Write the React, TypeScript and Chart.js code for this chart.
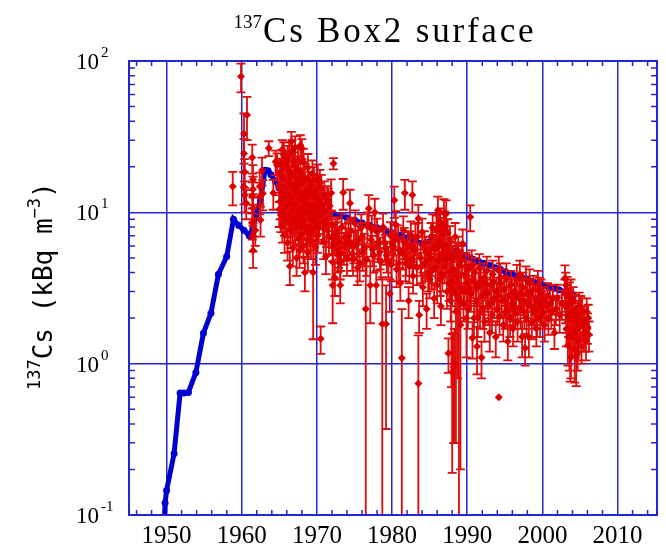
import React, { useEffect, useRef } from "react";
import { Chart, registerables } from "chart.js";

Chart.register(...registerables);

// ---------- axes ----------
const xMajorTicks = [1950, 1960, 1970, 1980, 1990, 2000, 2010];
const yMajorTicks = [0.1, 1, 10, 100];
const yTickExponents = ["-1", "0", "1", "2"];

// ---------- model (blue line) ----------
const modelYears = [
  1949.6, 1949.8, 1950.0, 1951.0, 1951.8, 1952.3, 1952.9, 1953.9, 1954.9, 1955.9,
  1956.9, 1958.0, 1958.9, 1959.6, 1960.3, 1961.0, 1961.5, 1961.9, 1962.5, 1963.1,
  1963.5, 1963.9, 1964.5, 1965.0, 1966.0, 1967.0, 1968.0, 1969.0, 1970.0, 1971.0,
  1972.0, 1973.0, 1974.0, 1975.0, 1976.0, 1977.0, 1978.0, 1979.0, 1980.0, 1981.0,
  1982.0, 1983.0, 1984.0, 1985.0, 1985.8, 1986.5, 1987.3, 1988.0, 1988.8, 1989.5,
  1990.1, 1990.8, 1991.5, 1992.2, 1993.0, 1993.7, 1994.4, 1995.1, 1995.9, 1996.6,
  1997.3, 1998.0, 1998.7, 1999.4, 2000.1, 2000.8, 2001.5, 2002.2, 2003.0, 2003.7,
  2004.1,
];
const modelValues = [
  0.07, 0.12, 0.145, 0.255, 0.64, 0.64, 0.645, 0.875, 1.59, 2.15,
  3.9, 5.1, 9.0, 8.2, 7.6, 7.0, 8.0, 9.6, 12.0, 19.0,
  18.8, 17.7, 16.0, 14.4, 13.5, 12.8, 12.0, 11.3, 10.8, 10.3,
  9.8, 9.5, 9.2, 8.9, 8.5, 8.2, 7.9, 7.6, 7.3, 7.05,
  6.8, 6.55, 6.2, 6.4, 6.5, 6.2, 5.9, 5.6, 5.35, 5.2,
  5.05, 4.9, 4.75, 4.6, 4.45, 4.3, 4.2, 4.05, 3.92, 3.8,
  3.7, 3.62, 3.5, 3.4, 3.3, 3.22, 3.15, 3.08, 2.98, 2.92,
  2.85,
];

// ---------- observations [year, value, error] ----------
const obsBefore1965 = [
  [1958.8, 14.8, 3.7], [1959.9, 79, 17], [1960.3, 33, 12], [1960.7, 44, 14],
  [1960.3, 24.5, 6], [1960.4, 18.5, 4], [1960.3, 14.8, 3.5], [1960.4, 13, 3],
  [1960.6, 11.5, 2.5], [1961.4, 23, 5], [1961.5, 16.5, 4], [1961.5, 14.2, 3],
  [1961.4, 12.8, 3], [1961.5, 10.7, 2.5], [1961.4, 8.6, 2], [1961.5, 7.0, 1.5],
  [1961.5, 5.6, 1.3], [1961.8, 7.6, 1.6], [1962.4, 14.8, 3.5], [1962.4, 12.7, 3],
  [1962.5, 8.9, 2], [1962.7, 19, 4], [1962.8, 13.3, 3], [1963.6, 26.5, 3],
  [1964.2, 13.4, 3], [1964.5, 21.6, 4], [1964.7, 20.5, 4],
];

const obs1965to1970 = [
  [1965.0, 15.2, 3.5], [1965.1, 11.8, 2.8], [1965.1, 18.4, 4.2], [1965.2, 9.6, 2.2],
  [1965.3, 13.5, 3.0], [1965.3, 21.0, 4.8], [1965.4, 8.2, 1.9], [1965.5, 16.8, 3.8],
  [1965.5, 12.1, 2.9], [1965.6, 24.0, 5.0], [1965.6, 10.2, 2.4], [1965.7, 7.1, 1.7],
  [1965.8, 14.6, 3.3], [1965.8, 19.5, 4.4], [1965.9, 11.0, 2.6], [1966.0, 8.9, 2.1],
  [1966.0, 16.0, 3.7], [1966.1, 22.5, 5.0], [1966.1, 6.3, 1.5], [1966.2, 13.0, 3.0],
  [1966.2, 19.0, 4.0], [1966.3, 9.8, 2.3], [1966.4, 4.4, 1.1], [1966.4, 15.5, 3.6],
  [1966.5, 11.5, 2.7], [1966.5, 7.6, 1.8], [1966.6, 29.5, 4.5], [1966.6, 17.8, 4.1],
  [1966.7, 25.0, 5.0], [1966.7, 12.6, 2.9], [1966.8, 9.0, 2.1], [1966.8, 5.8, 1.4],
  [1966.9, 14.2, 3.3], [1967.0, 20.3, 4.6], [1967.0, 10.6, 2.5], [1967.1, 7.9, 1.9],
  [1967.2, 13.8, 3.2], [1967.2, 16.9, 3.9], [1967.3, 5.0, 1.2], [1967.3, 11.2, 2.6],
  [1967.4, 8.5, 2.0], [1967.5, 22.0, 4.8], [1967.5, 14.9, 3.4], [1967.6, 6.7, 1.6],
  [1967.6, 10.0, 2.3], [1967.7, 12.3, 2.9], [1967.8, 27.8, 4.5], [1967.8, 18.2, 4.2],
  [1967.9, 9.3, 2.2], [1967.9, 7.2, 1.7], [1968.0, 26.5, 4.0], [1968.0, 13.1, 3.0],
  [1968.1, 15.8, 3.6], [1968.1, 10.8, 2.5], [1968.2, 6.0, 1.4], [1968.3, 8.7, 2.0],
  [1968.3, 12.0, 2.8], [1968.4, 4.0, 1.0], [1968.4, 17.0, 3.9], [1968.5, 9.9, 2.3],
  [1968.6, 14.0, 3.2], [1968.6, 7.4, 1.8], [1968.7, 11.4, 2.7], [1968.8, 19.8, 4.5],
  [1968.8, 5.4, 1.3], [1968.9, 8.1, 1.9], [1969.0, 12.9, 3.0], [1969.0, 10.3, 2.4],
  [1969.1, 15.0, 3.5], [1969.2, 6.5, 1.6], [1969.2, 9.1, 2.1], [1969.3, 13.6, 3.1],
  [1969.4, 11.0, 2.6], [1969.5, 4.0, 2.55], [1969.5, 7.8, 1.8], [1969.6, 16.2, 3.7],
  [1969.7, 9.6, 2.2], [1969.8, 12.4, 2.9], [1969.8, 5.9, 1.4], [1969.9, 8.4, 2.0],
  [1970.0, 14.3, 3.3], [1970.0, 10.9, 2.5], [1970.1, 7.0, 1.6], [1970.2, 12.2, 2.8],
  [1970.3, 9.4, 2.2], [1970.5, 1.46, 0.3],
  [1965.0, 10.5, 2.5], [1965.2, 17.5, 4.0], [1965.4, 12.8, 3.0], [1965.4, 26.0, 4.0],
  [1965.7, 9.1, 2.1], [1965.9, 20.8, 4.6], [1966.0, 12.2, 2.8], [1966.3, 16.6, 3.8],
  [1966.3, 24.0, 5.0], [1966.5, 8.3, 2.0], [1966.9, 10.4, 2.4], [1966.9, 21.5, 4.8],
  [1967.1, 15.3, 3.5], [1967.1, 26.8, 5.0], [1967.3, 9.5, 2.2], [1967.4, 19.1, 4.3],
  [1967.7, 16.0, 3.6], [1967.7, 5.6, 1.3], [1968.0, 8.0, 1.9], [1968.2, 21.5, 4.8],
  [1968.5, 13.0, 3.0], [1968.7, 6.6, 1.5], [1968.9, 16.3, 3.7], [1969.1, 7.3, 1.7],
  [1969.3, 10.1, 2.3], [1969.4, 18.0, 4.0], [1969.6, 8.9, 2.0], [1969.7, 13.2, 3.0],
  [1969.9, 10.8, 2.5], [1970.1, 16.9, 3.8], [1970.2, 8.0, 1.8],
];

const obs1970s = [
  [1970.4, 15.6, 3.5], [1970.6, 14.4, 3.3], [1970.7, 11.3, 2.6], [1970.8, 8.6, 2.0],
  [1970.9, 6.4, 1.5], [1971.0, 13.0, 3.0], [1971.1, 10.1, 2.3], [1971.2, 5.1, 1.2],
  [1971.3, 7.7, 1.8], [1971.4, 12.1, 2.8], [1971.5, 9.0, 2.1], [1971.6, 6.9, 1.6],
  [1971.7, 11.0, 2.5], [1971.9, 13.4, 3.1], [1972.0, 8.2, 1.9], [1972.1, 3.3, 1.45],
  [1972.1, 4.7, 1.1], [1972.2, 21.0, 1.8], [1972.2, 6.1, 1.4], [1972.3, 6.9, 1.6],
  [1972.4, 3.7, 0.9], [1972.5, 7.3, 1.7], [1972.6, 7.0, 1.6], [1972.8, 5.2, 1.2],
  [1972.9, 5.6, 1.3], [1973.0, 6.4, 1.5], [1973.1, 3.3, 0.8], [1973.1, 4.7, 1.1],
  [1973.3, 8.0, 1.8], [1973.5, 13.5, 3.1], [1973.6, 5.9, 1.4], [1973.8, 6.8, 1.6],
  [1974.0, 5.0, 1.2], [1974.2, 7.0, 1.6], [1974.4, 11.5, 2.6], [1974.5, 7.5, 1.7],
  [1974.7, 5.3, 1.2], [1974.9, 6.0, 1.4], [1975.1, 8.4, 1.9], [1975.3, 6.2, 1.4],
  [1975.5, 6.6, 1.5], [1975.7, 4.6, 1.1], [1975.9, 7.9, 1.8], [1976.1, 5.4, 1.3],
  [1976.3, 5.8, 1.4], [1976.5, 2.3, 2.5], [1976.7, 8.1, 1.9], [1976.9, 10.6, 2.4],
  [1977.1, 3.3, 1.45], [1977.2, 6.6, 1.5], [1977.4, 5.7, 1.3], [1977.6, 5.2, 1.2],
  [1977.7, 10.0, 2.3], [1977.9, 3.3, 0.8], [1978.0, 7.4, 1.7], [1978.2, 6.4, 1.5],
  [1978.4, 5.5, 1.3], [1978.7, 1.83, 1.9], [1978.8, 8.0, 1.8], [1979.0, 6.3, 1.5],
  [1979.2, 1.83, 1.46], [1979.3, 5.2, 1.2], [1979.5, 4.8, 1.1], [1979.7, 2.9, 0.7],
  [1979.8, 7.0, 1.6], [1980.0, 6.2, 1.4], [1980.2, 5.9, 1.4], [1980.3, 12.0, 2.8],
  [1970.5, 10.0, 2.3], [1971.0, 8.3, 1.9], [1971.5, 11.7, 2.7], [1972.0, 6.8, 1.6],
  [1972.7, 7.6, 1.7], [1973.2, 5.4, 1.3], [1973.9, 6.3, 1.5], [1974.3, 6.3, 1.5],
  [1974.8, 4.9, 1.1], [1975.4, 4.3, 1.0], [1976.0, 6.9, 1.6], [1976.6, 4.9, 1.1],
  [1977.3, 7.7, 1.8], [1978.1, 6.1, 1.4], [1978.5, 4.7, 1.1], [1979.1, 5.8, 1.3],
  [1979.9, 4.5, 1.0],
];

const obs1980s = [
  [1980.5, 8.3, 1.9], [1980.6, 4.2, 1.0], [1980.8, 6.7, 1.5], [1981.0, 5.6, 1.3],
  [1981.1, 3.4, 0.8], [1981.3, 1.09, 1.2], [1981.4, 5.4, 1.2], [1981.5, 7.6, 1.8],
  [1981.7, 13.4, 3.0], [1981.8, 4.6, 1.1], [1981.9, 5.0, 1.2], [1982.1, 6.0, 1.4],
  [1982.2, 2.6, 0.6], [1982.4, 6.1, 1.4], [1982.5, 7.1, 1.6], [1982.7, 13.0, 3.0],
  [1982.7, 4.9, 1.1], [1982.8, 3.8, 0.9], [1983.0, 5.6, 1.3], [1983.1, 6.8, 1.6],
  [1983.3, 4.3, 1.0], [1983.5, 9.1, 2.1], [1983.5, 0.74, 0.8], [1983.6, 2.1, 0.5],
  [1983.8, 5.0, 1.2], [1984.0, 7.4, 1.7], [1984.1, 3.2, 0.8], [1984.3, 6.1, 1.4],
  [1984.4, 4.6, 1.1], [1984.6, 2.3, 0.6], [1984.7, 4.8, 1.1], [1984.9, 5.3, 1.2],
  [1985.0, 3.6, 0.9], [1985.2, 6.9, 1.6], [1985.3, 4.1, 1.0], [1985.5, 5.8, 1.3],
  [1985.6, 2.7, 0.7], [1985.7, 5.7, 1.3], [1985.9, 7.7, 1.8], [1986.0, 3.3, 0.8],
  [1986.1, 10.3, 2.4], [1986.2, 4.8, 1.1], [1986.3, 6.4, 1.5], [1986.4, 8.6, 2.0],
  [1986.5, 2.4, 0.6], [1986.6, 5.2, 1.2], [1986.7, 3.9, 0.9], [1986.8, 7.1, 1.6],
  [1986.9, 9.9, 2.3], [1987.0, 4.4, 1.0], [1987.1, 6.0, 1.4], [1987.2, 9.8, 2.2],
  [1987.3, 3.0, 0.7], [1987.4, 5.5, 1.3], [1987.5, 1.17, 0.3], [1987.6, 4.0, 1.0],
  [1987.7, 6.6, 1.5], [1987.8, 2.6, 0.7], [1987.9, 3.5, 2.8], [1988.0, 0.88, 0.69],
  [1988.1, 4.9, 1.1], [1988.2, 0.95, 0.65], [1988.3, 1.0, 0.7], [1988.4, 6.9, 1.6],
  [1988.5, 2.2, 1.9], [1988.6, 3.8, 0.9], [1988.8, 5.6, 1.3], [1988.9, 2.7, 2.6],
  [1989.0, 4.5, 1.1], [1989.1, 1.8, 1.6], [1989.2, 3.2, 0.8], [1989.4, 6.2, 1.5],
  [1989.5, 2.5, 0.6], [1989.7, 3.9, 0.9], [1989.9, 2.0, 0.9],
  [1980.4, 6.7, 1.5], [1980.9, 4.6, 1.1], [1981.6, 6.4, 1.5], [1982.3, 4.4, 1.0],
  [1982.9, 5.8, 1.3], [1983.4, 6.9, 1.6], [1983.9, 4.4, 1.0], [1984.5, 5.6, 1.3],
  [1984.8, 3.9, 0.9], [1985.1, 5.0, 1.2], [1985.4, 7.9, 1.8], [1985.8, 4.3, 1.0],
  [1986.0, 6.0, 1.4], [1986.2, 8.0, 1.8], [1986.4, 3.6, 0.8], [1986.6, 7.5, 1.7],
  [1986.8, 5.9, 1.4], [1987.0, 8.2, 1.9], [1987.2, 4.9, 1.1], [1987.4, 7.3, 1.7],
  [1987.6, 3.4, 0.8], [1987.8, 5.2, 1.2], [1988.0, 3.1, 0.7], [1988.2, 4.2, 1.0],
  [1988.4, 2.9, 0.7], [1988.6, 5.1, 1.2], [1988.7, 3.4, 2.6], [1989.0, 2.6, 0.6],
  [1989.3, 4.9, 1.1], [1989.6, 3.0, 0.7], [1989.8, 4.4, 1.0],
];

const obs1990s = [
  [1990.0, 3.4, 0.8], [1990.1, 2.3, 0.6], [1990.2, 4.2, 1.0], [1990.4, 9.3, 1.8],
  [1990.5, 2.9, 0.7], [1990.7, 1.48, 0.4], [1990.8, 3.6, 0.9], [1990.9, 2.0, 0.5],
  [1991.0, 4.0, 1.0], [1991.2, 2.6, 0.6], [1991.3, 1.3, 0.45], [1991.5, 3.2, 0.8],
  [1991.6, 4.3, 1.0], [1991.7, 2.2, 0.5], [1991.9, 1.1, 0.3], [1992.0, 2.8, 0.7],
  [1992.2, 3.7, 0.9], [1992.3, 1.9, 0.5], [1992.5, 3.0, 0.7], [1992.6, 4.1, 1.0],
  [1992.8, 2.4, 0.6], [1993.0, 1.6, 0.4], [1993.1, 3.3, 0.8], [1993.3, 2.1, 0.5],
  [1993.4, 3.9, 0.9], [1993.6, 2.7, 0.7], [1993.8, 1.5, 0.4], [1993.9, 3.0, 0.7],
  [1994.0, 2.3, 0.5], [1994.2, 0.6, 0], [1994.2, 4.1, 1.0], [1994.3, 2.05, 0.5],
  [1994.5, 3.4, 0.8], [1994.6, 2.6, 0.6], [1994.8, 1.8, 0.4], [1994.9, 3.1, 0.7],
  [1995.1, 2.2, 0.5], [1995.2, 3.7, 0.9], [1995.4, 1.4, 0.35], [1995.5, 2.8, 0.7],
  [1995.7, 2.0, 0.5], [1995.8, 3.3, 0.8], [1996.0, 2.5, 0.6], [1996.1, 1.7, 0.4],
  [1996.3, 3.0, 0.7], [1996.4, 2.2, 0.5], [1996.6, 3.6, 0.9], [1996.7, 1.9, 0.5],
  [1996.9, 2.7, 0.6], [1997.0, 3.9, 0.9], [1997.1, 2.3, 0.6], [1997.3, 1.5, 0.4],
  [1997.4, 3.2, 0.8], [1997.5, 2.6, 0.6], [1997.7, 1.27, 0.3], [1997.8, 3.6, 0.8],
  [1997.9, 2.0, 0.5], [1998.0, 2.9, 0.7], [1998.2, 1.5, 0.4], [1998.3, 3.4, 0.8],
  [1998.5, 2.4, 0.6], [1998.6, 1.9, 0.45], [1998.8, 3.1, 0.7], [1998.9, 2.2, 0.5],
  [1999.1, 2.7, 0.6], [1999.2, 1.7, 0.4], [1999.4, 3.3, 0.8], [1999.5, 2.5, 0.6],
  [1999.7, 2.0, 0.5], [1999.8, 2.9, 0.7],
  [1990.3, 3.1, 0.7], [1990.6, 4.5, 1.1], [1991.1, 3.4, 0.8], [1991.4, 2.0, 0.5],
  [1991.8, 3.5, 0.8], [1992.1, 2.3, 0.6], [1992.4, 3.4, 0.8], [1992.7, 2.9, 0.7],
  [1993.2, 2.5, 0.6], [1993.5, 3.5, 0.8], [1994.1, 2.8, 0.6], [1994.4, 3.7, 0.9],
  [1995.0, 2.6, 0.6], [1995.3, 2.3, 0.5], [1995.9, 2.9, 0.7], [1996.2, 2.4, 0.6],
  [1996.5, 2.8, 0.6], [1997.2, 2.9, 0.7], [1997.6, 2.2, 0.5], [1998.1, 2.5, 0.6],
  [1998.4, 2.9, 0.7], [1999.0, 2.3, 0.5], [1999.3, 2.0, 0.5], [1999.6, 3.0, 0.7],
  [1999.9, 2.4, 0.6],
];

const obs2000s = [
  [2000.0, 2.2, 0.5], [2000.2, 2.6, 0.6], [2000.3, 1.8, 0.4], [2000.5, 2.4, 0.5],
  [2000.7, 2.8, 0.6], [2000.8, 2.0, 0.45], [2001.0, 2.5, 0.55], [2001.2, 2.2, 0.5],
  [2001.4, 2.7, 0.6], [2001.6, 1.6, 0.35], [2001.8, 2.3, 0.5], [2002.0, 2.73, 0.6],
  [2002.3, 2.1, 0.5], [2002.6, 2.5, 0.55], [2003.0, 3.66, 0.8], [2003.1, 2.4, 0.55],
  [2003.2, 1.7, 0.4], [2003.3, 3.05, 0.7], [2003.4, 1.32, 0.35], [2003.5, 2.0, 0.5],
  [2003.6, 2.8, 0.65], [2003.7, 1.66, 0.9], [2003.8, 1.1, 0.3], [2003.9, 2.2, 0.5],
  [2004.0, 1.5, 0.4], [2004.1, 2.6, 0.6], [2004.2, 1.9, 0.45], [2004.3, 1.25, 0.5],
  [2004.4, 2.3, 0.55], [2004.5, 1.11, 0.4], [2004.6, 1.7, 0.4], [2004.7, 2.1, 0.5],
  [2004.8, 1.4, 0.35], [2004.9, 2.4, 0.55], [2005.0, 1.8, 0.4], [2005.2, 1.3, 0.3],
  [2005.3, 2.2, 0.5], [2005.5, 1.6, 0.4], [2005.6, 1.95, 0.45], [2005.8, 1.4, 0.35],
  [2006.0, 1.75, 0.4], [2006.1, 2.0, 0.45],
  [2003.0, 2.9, 0.7], [2003.1, 3.3, 0.7], [2003.3, 2.1, 0.5], [2003.5, 2.5, 0.6],
  [2003.6, 1.5, 0.6], [2003.8, 2.9, 0.7], [2004.0, 2.0, 0.5], [2004.2, 1.6, 0.4],
  [2004.4, 1.9, 0.45], [2004.5, 1.5, 0.35], [2004.7, 1.2, 0.3], [2004.9, 1.9, 0.45],
  [2005.1, 2.3, 0.5], [2005.4, 1.85, 0.4], [2005.7, 1.6, 0.4], [2005.9, 2.2, 0.5],
  [2006.2, 1.55, 0.35],
];

const GRID_BLUE = "#2424d0";
const LINE_BLUE = "#0000d0";
const OBS_RED = "#dd0000";
const BAR_RED = "#e00c0c";

export default function App() {
  const ref = useRef<HTMLCanvasElement>(null);

  useEffect(() => {
    const canvas = ref.current;
    if (!canvas) return;
    const obs = [
      ...obsBefore1965,
      ...obs1965to1970,
      ...obs1970s,
      ...obs1980s,
      ...obs1990s,
      ...obs2000s,
    ];

    const decor = {
      id: "decor",
      beforeDatasetDraw(chart: any, args: any) {
        if (args.index !== 0) return;
        const { ctx, chartArea: a } = chart;
        const xs = chart.scales.x;
        const ys = chart.scales.y;
        ctx.save();
        ctx.beginPath();
        ctx.rect(a.left, a.top, a.right - a.left, a.bottom - a.top);
        ctx.clip();
        ctx.strokeStyle = BAR_RED;
        ctx.lineWidth = 1.8;
        for (const [yr, v, e] of obs) {
          if (!(e > 0)) continue;
          const px = xs.getPixelForValue(yr);
          const top = ys.getPixelForValue(v + e);
          const lo = v - e;
          const bottom = lo > 0 ? ys.getPixelForValue(lo) : a.bottom + 10;
          ctx.beginPath();
          ctx.moveTo(px, top);
          ctx.lineTo(px, bottom);
          ctx.moveTo(px - 4.5, top);
          ctx.lineTo(px + 4.5, top);
          if (lo > 0) {
            ctx.moveTo(px - 4.5, bottom);
            ctx.lineTo(px + 4.5, bottom);
          }
          ctx.stroke();
        }
        ctx.restore();
      },
      afterDatasetsDraw(chart: any) {
        const { ctx, chartArea: a } = chart;
        const xs = chart.scales.x;
        const ys = chart.scales.y;
        ctx.save();
        ctx.strokeStyle = GRID_BLUE;
        ctx.lineWidth = 1.5;
        ctx.beginPath();
        for (let yr = 1946; yr <= 2014; yr += 2) {
          if (yr % 10 === 0) continue;
          const px = xs.getPixelForValue(yr);
          ctx.moveTo(px, a.bottom);
          ctx.lineTo(px, a.bottom - 5);
          ctx.moveTo(px, a.top);
          ctx.lineTo(px, a.top + 5);
        }
        for (const dec of [0.1, 1, 10]) {
          for (let k = 2; k <= 9; k++) {
            const py = ys.getPixelForValue(dec * k);
            ctx.moveTo(a.left, py);
            ctx.lineTo(a.left + 6, py);
            ctx.moveTo(a.right, py);
            ctx.lineTo(a.right - 6, py);
          }
        }
        ctx.stroke();
        ctx.lineWidth = 2;
        ctx.strokeRect(a.left, a.top, a.right - a.left, a.bottom - a.top);
        ctx.restore();
      },
      afterDraw(chart: any) {
        const { ctx } = chart;
        const xs = chart.scales.x;
        const ys = chart.scales.y;
        ctx.save();
        ctx.fillStyle = "#000";
        // x tick labels
        ctx.font = "25px 'Liberation Serif'";
        ctx.textAlign = "center";
        ctx.textBaseline = "alphabetic";
        for (const t of xMajorTicks) {
          ctx.fillText(String(t), xs.getPixelForValue(t), 543);
        }
        // y tick labels 10^n
        yMajorTicks.forEach((v, i) => {
          const py = ys.getPixelForValue(v);
          ctx.font = "23px 'Liberation Serif'";
          ctx.textAlign = "right";
          ctx.fillText("10", 99, py + 8);
          ctx.font = "15px 'Liberation Serif'";
          ctx.textAlign = "left";
          ctx.fillText(yTickExponents[i], 101, py - 4);
        });
        // title
        ctx.textAlign = "right";
        ctx.font = "19px 'Liberation Serif'";
        ctx.fillText("137", 262, 28);
        ctx.textAlign = "left";
        ctx.font = "35px 'Liberation Serif'";
        try {
          (ctx as any).letterSpacing = "2.8px";
        } catch (e) {}
        ctx.fillText("Cs Box2 surface", 263, 42);
        try {
          (ctx as any).letterSpacing = "0px";
        } catch (e) {}
        // y-axis title (rotated)
        ctx.save();
        ctx.translate(52, 390);
        ctx.rotate(-Math.PI / 2);
        ctx.textAlign = "left";
        let cx = 0;
        const pieces: [string, boolean][] = [
          ["137", true],
          ["Cs (kBq m", false],
          ["\u22123", true],
          [")", false],
        ];
        for (const [txt, sup] of pieces) {
          ctx.font = sup ? "17px 'DejaVu Sans Mono'" : "26px 'DejaVu Sans Mono'";
          ctx.fillText(txt, cx, sup ? -12 : 0);
          cx += ctx.measureText(txt).width;
        }
        ctx.restore();
        ctx.restore();
      },
    };

    const chart = new Chart(canvas, {
      type: "scatter",
      data: {
        datasets: [
          {
            label: "observations",
            data: obs.map(([x, y]) => ({ x, y })),
            pointStyle: "rectRot",
            pointRadius: 4,
            backgroundColor: OBS_RED,
            borderColor: OBS_RED,
            borderWidth: 0,
            showLine: false,
          } as any,
          {
            label: "model",
            data: modelYears.map((x, i) => ({ x, y: modelValues[i] })),
            showLine: true,
            borderColor: LINE_BLUE,
            borderWidth: 5,
            pointRadius: 3.5,
            pointBackgroundColor: LINE_BLUE,
            pointBorderColor: LINE_BLUE,
            pointBorderWidth: 0,
            tension: 0,
          } as any,
        ],
      },
      options: {
        responsive: false,
        animation: false,
        devicePixelRatio: 1,
        layout: { padding: { left: 0, right: 9, top: 61, bottom: 0 } },
        plugins: {
          legend: { display: false },
          tooltip: { enabled: false },
          title: { display: false },
        },
        scales: {
          x: {
            type: "linear",
            min: 1945,
            max: 2015.25,
            afterBuildTicks: (s: any) => {
              s.ticks = xMajorTicks.map((v) => ({ value: v }));
            },
            afterFit: (s: any) => {
              s.height = 36;
            },
            ticks: { display: false },
            grid: { color: GRID_BLUE, lineWidth: 1.5, drawTicks: false },
            border: { display: false },
          },
          y: {
            type: "logarithmic",
            min: 0.1,
            max: 100,
            afterBuildTicks: (s: any) => {
              s.ticks = yMajorTicks.map((v) => ({ value: v }));
            },
            afterFit: (s: any) => {
              s.width = 129;
            },
            ticks: { display: false },
            grid: { color: GRID_BLUE, lineWidth: 1.5, drawTicks: false },
            border: { display: false },
          },
        },
      } as any,
      plugins: [decor],
    });
    return () => chart.destroy();
  }, []);

  return (
    <div
      style={{
        position: "fixed",
        left: 0,
        top: 0,
        width: 666,
        height: 551,
        background: "#fff",
      }}
    >
      <canvas ref={ref} width={666} height={551} style={{ width: 666, height: 551 }} />
    </div>
  );
}
